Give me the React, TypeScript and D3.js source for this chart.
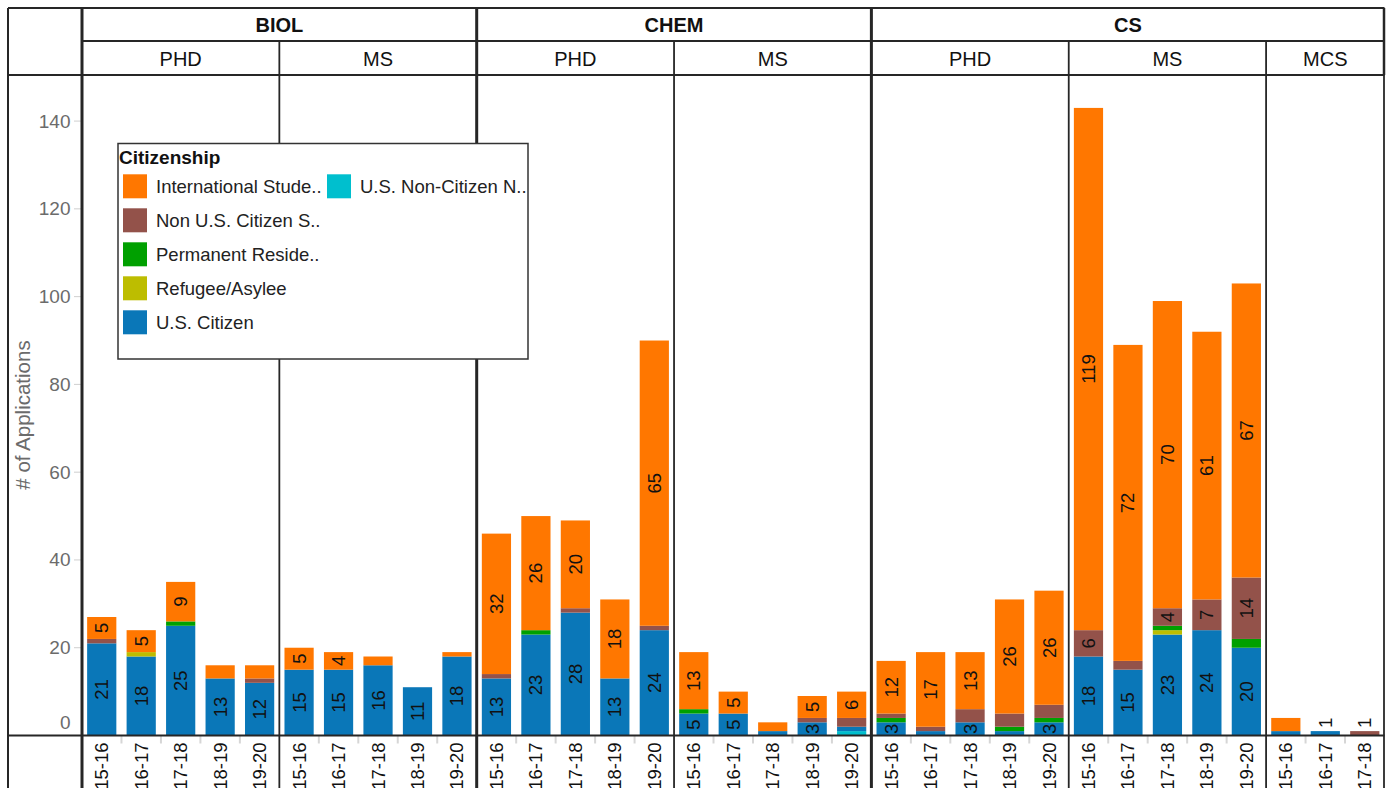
import React from "react";
import * as d3 from "d3";

const departments = ["BIOL", "CHEM", "CS"];
const degreesByDept = [["PHD", "MS"], ["PHD", "MS"], ["PHD", "MS", "MCS"]];
const years = ["15-16", "16-17", "17-18", "18-19", "19-20"];
const mcsYears = ["15-16", "16-17", "17-18"];

// order of bars: BIOL PHD, BIOL MS, CHEM PHD, CHEM MS, CS PHD, CS MS, CS MCS
const usNonCitizen = [0,0,0,0,0, 0,0,0,0,0, 0,0,0,0,0, 0,0,0,0,1, 0,0,0,0,0, 0,0,0,0,0, 0,0,0];
const usCitizen = [21,18,25,13,12, 15,15,16,11,18, 13,23,28,13,24, 5,5,1,3,1, 3,1,3,1,3, 18,15,23,24,20, 1,1,0];
const refugee = [0,1,0,0,0, 0,0,0,0,0, 0,0,0,0,0, 0,0,0,0,0, 0,0,0,0,0, 0,0,1,0,0, 0,0,0];
const permanentResident = [0,0,1,0,0, 0,0,0,0,0, 0,1,0,0,0, 1,0,0,0,0, 1,0,0,1,1, 0,0,1,0,2, 0,0,0];
const nonUSCitizen = [1,0,0,0,1, 0,0,0,0,0, 1,0,1,0,1, 0,0,0,1,2, 1,1,3,3,3, 6,2,4,7,14, 0,0,1];
const international = [5,5,9,3,3, 5,4,2,0,1, 32,26,20,18,65, 13,5,2,5,6, 12,17,13,26,26, 119,72,70,61,67, 3,0,0];

const seriesKeys = ["usNonCitizen", "usCitizen", "refugee", "permanent", "nonUS", "international"];
const seriesValues = [usNonCitizen, usCitizen, refugee, permanentResident, nonUSCitizen, international];
const seriesColors = ["#00bfce", "#0a77b8", "#bdbd00", "#00a000", "#93524a", "#ff7700"];
const legendLabels = ["International Stude..", "Non U.S. Citizen S..", "Permanent Reside..", "Refugee/Asylee", "U.S. Citizen", "U.S. Non-Citizen N.."];
const legendKeys = ["international", "nonUS", "permanent", "refugee", "usCitizen", "usNonCitizen"];
const yTicks = [0, 20, 40, 60, 80, 100, 120, 140];

const FONT = "'Liberation Sans', Arial, Helvetica, sans-serif";
const LINE = "#262626";

export default function App() {
  const W = 1389, H = 788;
  const X0 = 82, X1 = 1384.5, TOP = 8, LEFT = 8, ROW1 = 41, HEAD = 75, BASE = 735.5;

  const panels: { dept: string; deg: string; years: string[]; start: number }[] = [];
  const rows: any[] = [];
  let idx = 0;
  departments.forEach((dept, di) => {
    degreesByDept[di].forEach((deg) => {
      const ys = deg === "MCS" ? mcsYears : years;
      panels.push({ dept, deg, years: ys, start: idx });
      ys.forEach((yr) => {
        const r: any = { key: `${dept}|${deg}|${yr}`, year: yr };
        seriesKeys.forEach((k, si) => (r[k] = seriesValues[si][idx]));
        rows.push(r);
        idx++;
      });
    });
  });

  const x = d3.scaleBand<string>().domain(rows.map((r) => r.key)).range([X0, X1]).paddingInner(0.26).paddingOuter(0.13);
  const step = x.step();
  const bw = x.bandwidth();
  const y = d3.scaleLinear().domain([0, 150.5]).range([BASE, HEAD]);
  const stacked = d3.stack<any>().keys(seriesKeys)(rows);

  const boundary = (i: number) => X0 + i * step;

  const deptSpans = departments.map((dept) => {
    const ps = panels.filter((p) => p.dept === dept);
    const s = ps[0].start;
    const e = ps[ps.length - 1].start + ps[ps.length - 1].years.length;
    return { dept, x0: boundary(s), x1: boundary(e) };
  });

  const labels: any[] = [];
  rows.forEach((r, i) => {
    const total = seriesKeys.reduce((a, k) => a + r[k], 0);
    const nonzero = seriesKeys.filter((k) => r[k] > 0);
    const cx = (x(r.key) as number) + bw / 2;
    if (nonzero.length === 1 && total < 3) {
      labels.push({ cx, cy: y(total) - 3, text: String(total), anchor: "start" });
      return;
    }
    stacked.forEach((s) => {
      const v = r[s.key];
      const [a, b] = s[i];
      if (v >= 4 || (v === 3 && s.key === "usCitizen")) {
        labels.push({ cx, cy: (y(a) + y(b)) / 2, text: String(v), anchor: "middle" });
      }
    });
  });

  return (
    <svg width={W} height={H} style={{ position: "fixed", left: 0, top: 0, background: "#fff" }} fontFamily={FONT}>
      <rect x={0} y={0} width={W} height={H} fill="#fff" />
      {stacked.map((s, si) => (
        <g key={s.key} fill={seriesColors[si]}>
          {s.map((d, i) =>
            d[1] - d[0] > 0 ? (
              <rect key={i} x={x(rows[i].key)} y={y(d[1])} width={bw} height={y(d[0]) - y(d[1])} />
            ) : null
          )}
        </g>
      ))}
      {labels.map((l, i) => (
        <text key={i} transform={`translate(${l.cx},${l.cy}) rotate(-90)`} textAnchor={l.anchor} dominantBaseline="central" fontSize={18.5} fill="#111">
          {l.text}
        </text>
      ))}
      {yTicks.map((t) => (
        <g key={t}>
          <line x1={74} x2={81} y1={y(t)} y2={y(t)} stroke="#cfcfcf" strokeWidth={1} />
          <text x={70.5} y={Math.min(y(t), BASE - 13)} textAnchor="end" dominantBaseline="central" fontSize={19} fill="#6b6b6b">
            {t}
          </text>
        </g>
      ))}
      <text transform={`translate(22,415) rotate(-90)`} textAnchor="middle" dominantBaseline="central" fontSize={20.5} fill="#6b6b6b">
        # of Applications
      </text>
      {rows.map((r, i) => (
        <g key={r.key}>
          {i > 0 && !panels.some((p) => p.start === i) ? (
            <line x1={boundary(i)} x2={boundary(i)} y1={BASE} y2={BASE + 8} stroke="#d6d6d6" strokeWidth={2} />
          ) : null}
          <text transform={`translate(${(x(r.key) as number) + bw / 2},${BASE + 7}) rotate(-90)`} textAnchor="end" dominantBaseline="central" fontSize={18.5} fill="#111">
            {r.year}
          </text>
        </g>
      ))}
      <line x1={LEFT} x2={X1} y1={TOP} y2={TOP} stroke={LINE} strokeWidth={2} />
      <line x1={X0} x2={X1} y1={ROW1} y2={ROW1} stroke={LINE} strokeWidth={1.8} />
      <line x1={LEFT} x2={X1} y1={HEAD} y2={HEAD} stroke={LINE} strokeWidth={2.2} />
      <line x1={LEFT} x2={X1} y1={BASE} y2={BASE} stroke={LINE} strokeWidth={2.2} />
      <line x1={LEFT} x2={LEFT} y1={TOP} y2={H} stroke={LINE} strokeWidth={2} />
      <line x1={X0} x2={X0} y1={TOP} y2={H} stroke={LINE} strokeWidth={3} />
      {panels.map((p, i) =>
        i > 0 && p.dept === panels[i - 1].dept ? (
          <line key={i} x1={boundary(p.start)} x2={boundary(p.start)} y1={ROW1} y2={H} stroke={LINE} strokeWidth={1.8} />
        ) : null
      )}
      {deptSpans.slice(1).map((d) => (
        <line key={d.dept} x1={d.x0} x2={d.x0} y1={TOP} y2={H} stroke={LINE} strokeWidth={3} />
      ))}
      <line x1={X1 - 0.5} x2={X1 - 0.5} y1={TOP} y2={HEAD} stroke={LINE} strokeWidth={2.5} />
      <line x1={X1 - 0.5} x2={X1 - 0.5} y1={HEAD} y2={H} stroke={LINE} strokeWidth={1.8} />
      {deptSpans.map((d) => (
        <text key={d.dept} x={(d.x0 + d.x1) / 2} y={25} textAnchor="middle" dominantBaseline="central" fontSize={20} fontWeight="bold" fill="#111">
          {d.dept}
        </text>
      ))}
      {panels.map((p) => (
        <text key={p.dept + p.deg} x={(boundary(p.start) + boundary(p.start + p.years.length)) / 2} y={58.5} textAnchor="middle" dominantBaseline="central" fontSize={20} fill="#111">
          {p.deg}
        </text>
      ))}
      <g>
        <rect x={118} y={143.5} width={410} height={215.5} fill="#fff" stroke="#333" strokeWidth={1.5} />
        <text x={119} y={157.5} dominantBaseline="central" fontSize={19} fontWeight="bold" fill="#111">
          Citizenship
        </text>
        {legendLabels.map((lab, i) => {
          const col = i === 5 ? 1 : 0;
          const row = i === 5 ? 0 : i;
          const sx = col === 0 ? 123 : 327;
          const sy = 174.3 + row * 34;
          const color = seriesColors[seriesKeys.indexOf(legendKeys[i])];
          return (
            <g key={lab}>
              <rect x={sx} y={sy} width={24} height={24} fill={color} />
              <text x={sx + 33} y={sy + 12.5} dominantBaseline="central" fontSize={18.5} fill="#222">
                {lab}
              </text>
            </g>
          );
        })}
      </g>
    </svg>
  );
}
